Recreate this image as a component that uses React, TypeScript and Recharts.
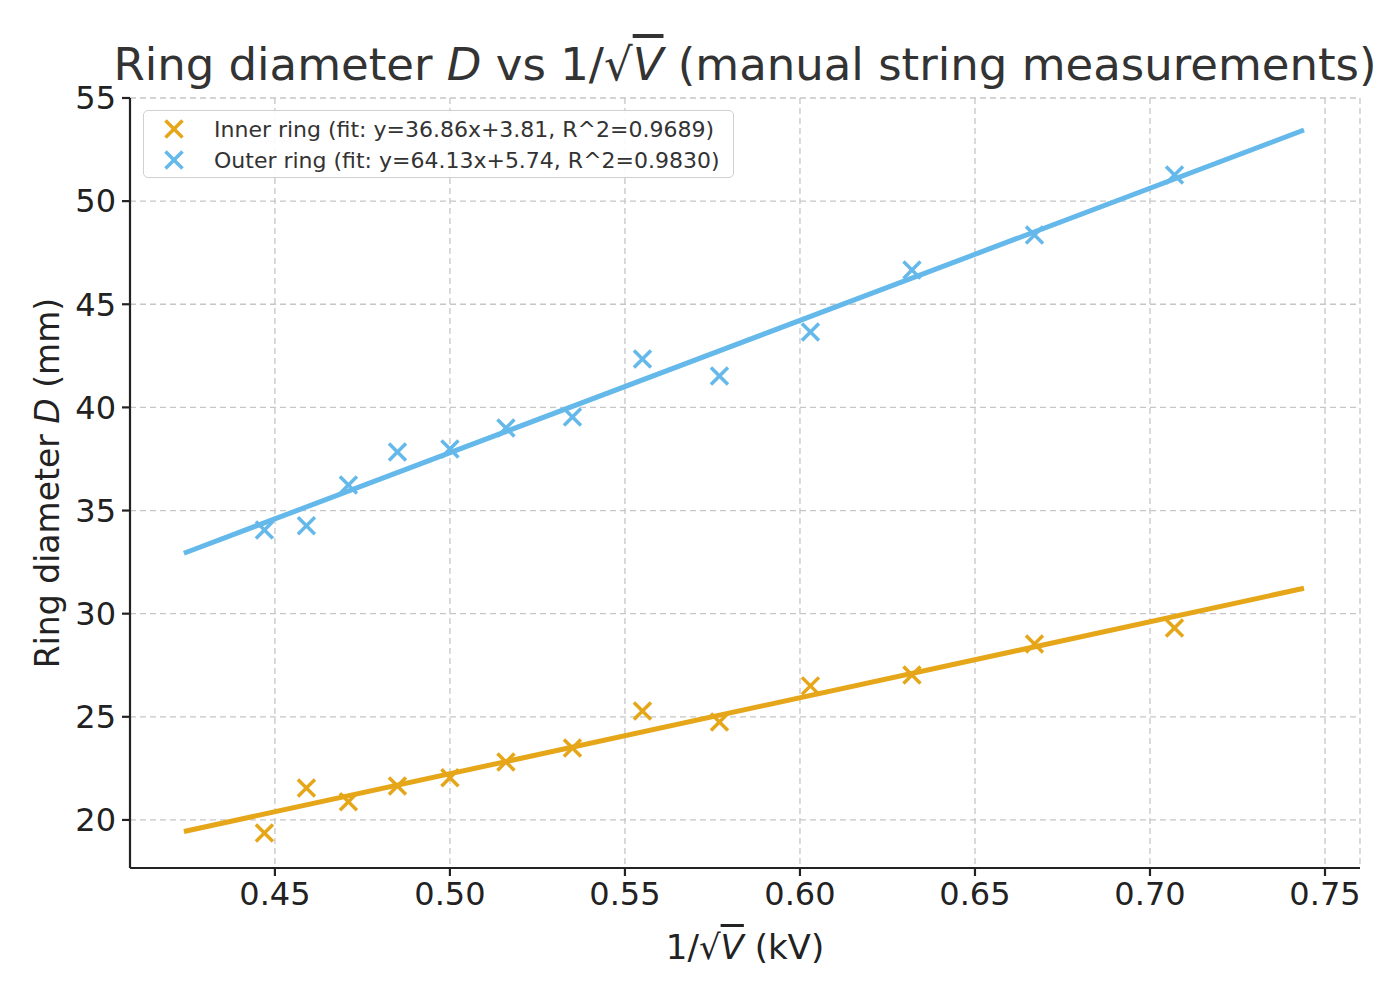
import { ScatterChart, Scatter, XAxis, YAxis, CartesianGrid } from "recharts";

// 1/sqrt(V) positions of each measurement
const invSqrtV = [0.447, 0.459, 0.471, 0.485, 0.5, 0.516, 0.535, 0.555, 0.577, 0.603, 0.632, 0.667, 0.707];
const innerD = [19.37, 21.55, 20.88, 21.65, 22.04, 22.81, 23.49, 25.28, 24.75, 26.5, 27.03, 28.53, 29.31];
const outerD = [34.06, 34.26, 36.24, 37.84, 37.98, 39.0, 39.53, 42.35, 41.52, 43.66, 46.66, 48.36, 51.27];

// fit line end points
const fitX = [0.424, 0.744];
const innerFit = [19.44, 31.23];
const outerFit = [32.93, 53.45];

const xTicks = [0.45, 0.5, 0.55, 0.6, 0.65, 0.7, 0.75];
const yTicks = [20, 25, 30, 35, 40, 45, 50, 55];

const ORANGE = "#E6A619";
const BLUE = "#64B9EA";
const FONT = "'DejaVu Sans', sans-serif";

const toPoints = (xs: number[], ys: number[]) => xs.map((x, i) => ({ x, y: ys[i] }));

const innerPts = toPoints(invSqrtV, innerD);
const outerPts = toPoints(invSqrtV, outerD);
const innerLine = toPoints(fitX, innerFit);
const outerLine = toPoints(fitX, outerFit);

function Cross({ cx, cy, color }: { cx?: number; cy?: number; color: string }) {
  if (cx == null || cy == null) return <g />;
  const s = 8.5;
  return (
    <g stroke={color} strokeWidth={3.5}>
      <line x1={cx - s} y1={cy - s} x2={cx + s} y2={cy + s} />
      <line x1={cx - s} y1={cy + s} x2={cx + s} y2={cy - s} />
    </g>
  );
}

const Sqrt = () => (
  <>
    <span>√</span>
    <span style={{ textDecoration: "overline", fontStyle: "italic" }}>V</span>
  </>
);

export default function App() {
  const tick = { fontSize: 32, fill: "#222", fontFamily: FONT };
  return (
    <div style={{ position: "absolute", left: 0, top: 0, width: 1400, height: 1000, background: "#fff", fontFamily: FONT }}>
      <ScatterChart width={1400} height={1000} margin={{ top: 98, right: 40, left: 0, bottom: 0 }}>
        <CartesianGrid stroke="#c6c6c6" strokeDasharray="6 4" strokeWidth={1.3} />
        <XAxis
          type="number"
          dataKey="x"
          domain={[0.4086, 0.76]}
          ticks={xTicks}
          allowDataOverflow
          height={132}
          tickFormatter={(v: number) => v.toFixed(2)}
          tick={tick}
          tickSize={8}
          tickMargin={6}
          stroke="#222"
          strokeWidth={2.2}
        />
        <YAxis
          type="number"
          dataKey="y"
          domain={[17.67, 55]}
          ticks={yTicks}
          allowDataOverflow
          width={130}
          tick={tick}
          tickSize={8}
          tickMargin={6}
          stroke="#222"
          strokeWidth={2.2}
        />
        <Scatter data={innerLine} line={{ stroke: ORANGE, strokeWidth: 5 }} shape={() => <g />} isAnimationActive={false} />
        <Scatter data={outerLine} line={{ stroke: BLUE, strokeWidth: 5 }} shape={() => <g />} isAnimationActive={false} />
        <Scatter data={innerPts} shape={(p: any) => <Cross cx={p.cx} cy={p.cy} color={ORANGE} />} isAnimationActive={false} />
        <Scatter data={outerPts} shape={(p: any) => <Cross cx={p.cx} cy={p.cy} color={BLUE} />} isAnimationActive={false} />
      </ScatterChart>

      <div style={{ position: "absolute", left: 0, width: 1490, top: 42, textAlign: "center", fontSize: 45, color: "#333", lineHeight: 1, whiteSpace: "nowrap" }}>
        Ring diameter <i>D</i> vs 1/<Sqrt /> (manual string measurements)
      </div>

      <div style={{ position: "absolute", left: 0, width: 1490, top: 930, textAlign: "center", fontSize: 34, color: "#222", lineHeight: 1, whiteSpace: "nowrap" }}>
        1/<Sqrt /> (kV)
      </div>

      <div
        style={{
          position: "absolute",
          left: 47,
          top: 483,
          transform: "translate(-50%, -50%) rotate(-90deg)",
          fontSize: 33,
          color: "#222",
          lineHeight: 1,
          whiteSpace: "nowrap",
        }}
      >
        Ring diameter <i>D</i> (mm)
      </div>

      <div
        style={{
          position: "absolute",
          left: 143,
          top: 110,
          width: 591,
          height: 68,
          boxSizing: "border-box",
          border: "1.5px solid #d0d0d0",
          borderRadius: 5,
          background: "rgba(255,255,255,0.9)",
          fontSize: 22,
          color: "#333",
        }}
      >
        {[
          { color: ORANGE, label: "Inner ring (fit: y=36.86x+3.81, R^2=0.9689)" },
          { color: BLUE, label: "Outer ring (fit: y=64.13x+5.74, R^2=0.9830)" },
        ].map((it, i) => (
          <div key={i} style={{ position: "absolute", left: 18, top: 5 + i * 31, height: 26, display: "flex", alignItems: "center", whiteSpace: "nowrap" }}>
            <svg width={24} height={24} style={{ marginRight: 28 }}>
              <Cross cx={12} cy={12} color={it.color} />
            </svg>
            <span>{it.label}</span>
          </div>
        ))}
      </div>
    </div>
  );
}
